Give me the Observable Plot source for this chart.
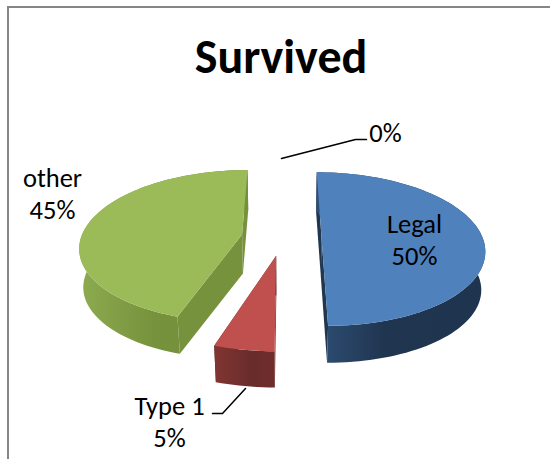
<!DOCTYPE html>
<html>
<head>
<meta charset="utf-8">
<script src="https://cdn.jsdelivr.net/npm/d3@7"></script>
<script src="https://cdn.jsdelivr.net/npm/@observablehq/plot@0.6"></script>
<style>
  html, body { margin: 0; padding: 0; background: #fff; overflow: hidden; }
  #chart { position: relative; width: 550px; height: 459px; overflow: hidden; }
  #frame { position: absolute; left: 7px; top: 6px; width: 600px; height: 600px; border: 2px solid #868686; box-sizing: border-box; }
  svg { position: absolute; left: 0; top: 0; background: transparent; }
</style>
</head>
<body>
<div id="chart"><div id="frame"></div></div>
<script>
const title = "Survived";
const categories = ["Legal", "Type 1", "", "other"];
const values = [50, 5, 0, 45];
const percentLabels = ["50%", "5%", "0%", "45%"];

// Styles and layout, apart from the data
const faceColors = ["#4f81bd", "#c0504d", "#9bbb59", "#9bbb59"];
const sideColors = ["#213750", "#6b2d2b", "#76923c", "#76923c"];
const gradients = [
  {id: "wallBlue", stops: [[0, "#2e4e75"], [0.4, "#203650"], [1, "#1f344e"]]},
  {id: "wallRed", stops: [[0, "#813533"], [0.6, "#692c2b"], [1, "#6e2d2b"]]},
  {id: "wallGreen", stops: [[0, "#8dab50"], [0.45, "#76923c"], [1, "#748f3b"]]}
];
const wallFills = ["url(#wallBlue)", "url(#wallRed)", "url(#wallGreen)", "url(#wallGreen)"];
const explode = [[0.23, 0], [-0.05, -0.235], [0, 0], [-0.265, 0.04]];
const view = {cx: 284, cy: 237, a: 161, b: 75, k: 0.15, depth: 39, shrink: 0.02};
const labelAt = [[414, 238.5], [169, 420.5], [385, 131], [52, 192.5]];
const leaders = [
  [[281, 158], [355, 139], [366, 139]],
  [[245, 388], [222, 413], [212, 413]]
];
const font = "Carlito, Lato, 'Open Sans', sans-serif";

function project(X, Z, H) {
  const w = 1 + view.k * Z + view.shrink * H;
  return [view.cx + view.a * X / w, view.cy - view.b * Z / w + view.depth * H];
}
function degrees(t) { return t * Math.PI / 180; }

const total = d3.sum(values);
let running = 0;
const slices = values.map((v, i) => {
  const a0 = running / total * 360;
  running += v;
  return {i, a0, a1: running / total * 360, ex: explode[i][0], ez: explode[i][1]};
});

function rim(s, H, a0 = s.a0, a1 = s.a1) {
  const n = Math.max(2, Math.ceil(Math.abs(a1 - a0) / 2));
  return d3.range(n + 1).map(j => {
    const t = degrees(a0 + (a1 - a0) * j / n);
    return project(s.ex + Math.sin(t), s.ez + Math.cos(t), H);
  });
}
const centre = (s, H) => project(s.ex, s.ez, H);
function wallAt(s, a) {
  const t = degrees(a);
  const top = project(s.ex + Math.sin(t), s.ez + Math.cos(t), 0);
  const low = project(s.ex + Math.sin(t), s.ez + Math.cos(t), 1);
  return [centre(s, 0), top, low, centre(s, 1)];
}
function poly(points, fill) {
  return Plot.line(points, {x: d => d[0], y: d => d[1], fill, stroke: "none", curve: "linear"});
}

const pieMarks = [];
for (const s of slices.filter(d => d.a1 > d.a0)) {
  pieMarks.push(poly(wallAt(s, s.a0), sideColors[s.i]));
  pieMarks.push(poly(wallAt(s, s.a1), sideColors[s.i]));
  pieMarks.push(poly([...rim(s, 0), ...rim(s, 1).reverse()], wallFills[s.i]));
  pieMarks.push(poly([centre(s, 0), ...rim(s, 0)], faceColors[s.i]));
}

const labelRows = categories.map((c, i) => ({
  text: c ? c + "\n" + percentLabels[i] : percentLabels[i],
  x: labelAt[i][0], y: labelAt[i][1]
}));

function defs() {
  const d = d3.create("svg:defs");
  for (const g of gradients) {
    const lg = d.append("linearGradient").attr("id", g.id);
    for (const [o, c] of g.stops) lg.append("stop").attr("offset", o).attr("stop-color", c);
  }
  return d.node();
}

const plot = Plot.plot({
  width: 550, height: 459,
  margin: 0,
  x: {domain: [0, 550], range: [0, 550], axis: null},
  y: {domain: [0, 459], range: [0, 459], axis: null},
  marks: [
    defs,
    ...pieMarks,
    ...leaders.map(l => Plot.line(l, {x: d => d[0], y: d => d[1], stroke: "#000", strokeWidth: 1.5, curve: "linear"})),
    Plot.text([title], {x: () => 280.5, y: () => 57.5, text: d => d, fontSize: 48, fontWeight: "bold", fontFamily: font, fill: "#000"}),
    Plot.text(labelRows, {x: "x", y: "y", text: "text", fontSize: 26.5, lineHeight: 1.2, fontFamily: font, fill: "#000"})
  ]
});
document.getElementById("chart").appendChild(plot);
</script>
</body>
</html>
